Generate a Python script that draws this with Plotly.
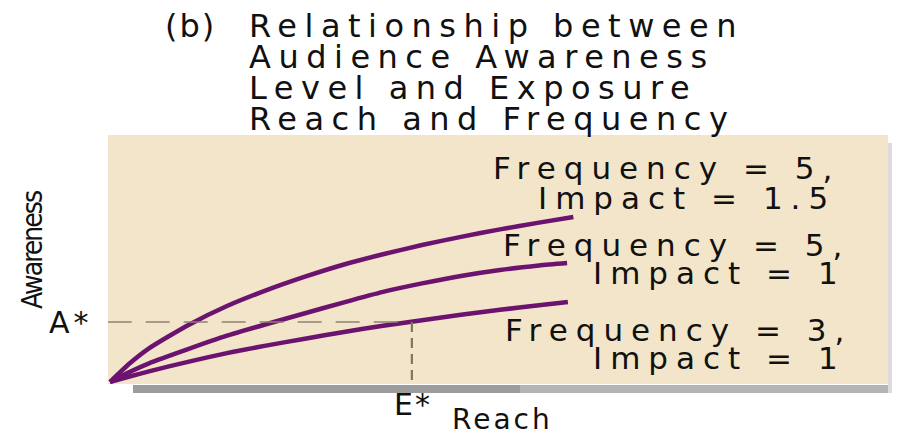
import plotly.graph_objects as go

# ---- data ----
top_reach = [0, 2.5, 5, 10, 15, 20, 25, 30, 35, 40, 45, 50, 55, 59.4]
top_aware = [0, 7.4, 13.5, 22.8, 30.5, 36.8, 42.3, 47.2, 51.3, 55, 58.3, 61.3, 64, 66.3]
mid_reach = [0, 2.5, 5, 10, 15, 20, 25, 30, 35, 40, 45, 50, 55, 58.6]
mid_aware = [0, 4.0, 7.5, 13.2, 18.6, 23.2, 27.6, 32, 36.2, 39.6, 42.6, 45, 46.8, 47.8]
bot_reach = [0, 2.5, 5, 10, 15, 20, 25, 30, 35, 40, 45, 50, 55, 58.7]
bot_aware = [0, 2.2, 4.3, 8.1, 11.6, 14.6, 17.4, 20.1, 22.6, 24.8, 27.0, 29.0, 30.8, 32.1]
curve_labels = [["Frequency = 5,", "Impact = 1.5"],
                ["Frequency = 5,", "Impact = 1"],
                ["Frequency = 3,", "Impact = 1"]]
A_star = 24.1
E_star = 38.7
title_lines = ["(b)", "Relationship between", "Audience Awareness",
               "Level and Exposure", "Reach and Frequency"]

# ---- layout geometry (page pixels; page body has an 8px margin) ----
OFF = 8
PAGE_W, PAGE_H = 900, 434
WIDTH, HEIGHT = PAGE_W - OFF, PAGE_H - OFF
L, R, T, B = 108 - OFF, PAGE_W - 888, 135 - OFF, PAGE_H - 384
W = WIDTH - L - R
H = HEIGHT - T - B


def px(x):
    return (x - OFF - L) / W


def py(y):
    return (HEIGHT - B - (y - OFF)) / H


PURPLE = "#6c1370"
BEIGE = "#f3e5c9"
FONT = "DejaVu Sans"


def spaced(s, ls):
    return '<span style="letter-spacing:%spx">%s</span>' % (ls, s)


fig = go.Figure()
for xs, ys in [(top_reach, top_aware), (mid_reach, mid_aware), (bot_reach, bot_aware)]:
    fig.add_trace(go.Scatter(x=xs, y=ys, mode="lines",
                             line=dict(color=PURPLE, width=4.5, shape="spline", smoothing=0.6),
                             hoverinfo="skip", showlegend=False))

# A* / E* guide lines
fig.add_trace(go.Scatter(x=[-0.3, E_star], y=[A_star, A_star], mode="lines",
                         line=dict(color="#8c8272", width=1.5, dash="24px,14px"),
                         hoverinfo="skip", showlegend=False))
fig.add_trace(go.Scatter(x=[E_star, E_star], y=[A_star, 0], mode="lines",
                         line=dict(color="#7d7462", width=2.2, dash="10px,6px"),
                         hoverinfo="skip", showlegend=False))

annotations = []
TS, TLS = 32, 7.5
# title
annotations.append(dict(text=spaced(title_lines[0], 2), x=px(163), y=py(26), xref="paper", yref="paper",
                        xanchor="left", yanchor="middle", showarrow=False,
                        font=dict(family=FONT, size=TS, color="#111")))
for i, line in enumerate(title_lines[1:]):
    annotations.append(dict(text=spaced(line, TLS), x=px(247), y=py(26 + i * 31),
                            xref="paper", yref="paper", xanchor="left", yanchor="middle",
                            showarrow=False, font=dict(family=FONT, size=TS, color="#111")))

# curve labels
LS, LLS = 31, 8
label_pos = [(842, 168, 838, 198), (852, 245, 848, 273), (854, 330, 848, 358)]
for (l1, l2), (x1, y1, x2, y2) in zip(curve_labels, label_pos):
    annotations.append(dict(text=spaced(l1, LLS), x=px(x1), y=py(y1), xref="paper", yref="paper",
                            xanchor="right", yanchor="middle", showarrow=False,
                            font=dict(family=FONT, size=LS, color="#111")))
    annotations.append(dict(text=spaced(l2, LLS), x=px(x2), y=py(y2), xref="paper", yref="paper",
                            xanchor="right", yanchor="middle", showarrow=False,
                            font=dict(family=FONT, size=LS, color="#111")))

# axis labels
annotations.append(dict(text=spaced("Awareness", -2), x=px(32), y=py(250), xref="paper", yref="paper",
                        xanchor="center", yanchor="middle", showarrow=False, textangle=-90,
                        font=dict(family="Liberation Sans Narrow, DejaVu Sans Condensed, Liberation Sans",
                                  size=28, color="#111")))
annotations.append(dict(text=spaced("A*", 4), x=px(47), y=py(322), xref="paper", yref="paper",
                        xanchor="left", yanchor="middle", showarrow=False,
                        font=dict(family=FONT, size=30, color="#111")))
annotations.append(dict(text=spaced("E*", 2), x=px(392), y=py(404), xref="paper", yref="paper",
                        xanchor="left", yanchor="middle", showarrow=False,
                        font=dict(family=FONT, size=30, color="#111")))
annotations.append(dict(text=spaced("Reach", 3), x=px(450), y=py(419), xref="paper", yref="paper",
                        xanchor="left", yanchor="middle", showarrow=False,
                        font=dict(family=FONT, size=28, color="#111")))

shapes = [
    # bottom shadow
    dict(type="rect", xref="paper", yref="paper", x0=px(133), x1=px(520), y0=py(393), y1=py(385),
         fillcolor="#9c9c9c", line=dict(width=0), layer="below"),
    dict(type="rect", xref="paper", yref="paper", x0=px(520), x1=px(890), y0=py(393), y1=py(385),
         fillcolor="#b4b4b4", line=dict(width=0), layer="below"),
    # right shadow
    dict(type="rect", xref="paper", yref="paper", x0=px(888), x1=px(897), y0=py(393), y1=py(143),
         fillcolor="#dcdcdc", line=dict(width=0), layer="below"),
]

fig.update_layout(
    width=WIDTH, height=HEIGHT,
    margin=dict(l=L, r=R, t=T, b=B, pad=0),
    paper_bgcolor="white", plot_bgcolor=BEIGE,
    xaxis=dict(range=[-0.256, 99.74], visible=False, fixedrange=True),
    yaxis=dict(range=[-0.8, 99.2], visible=False, fixedrange=True),
    annotations=annotations, shapes=shapes, showlegend=False,
)

fig.write_html("out.html")
